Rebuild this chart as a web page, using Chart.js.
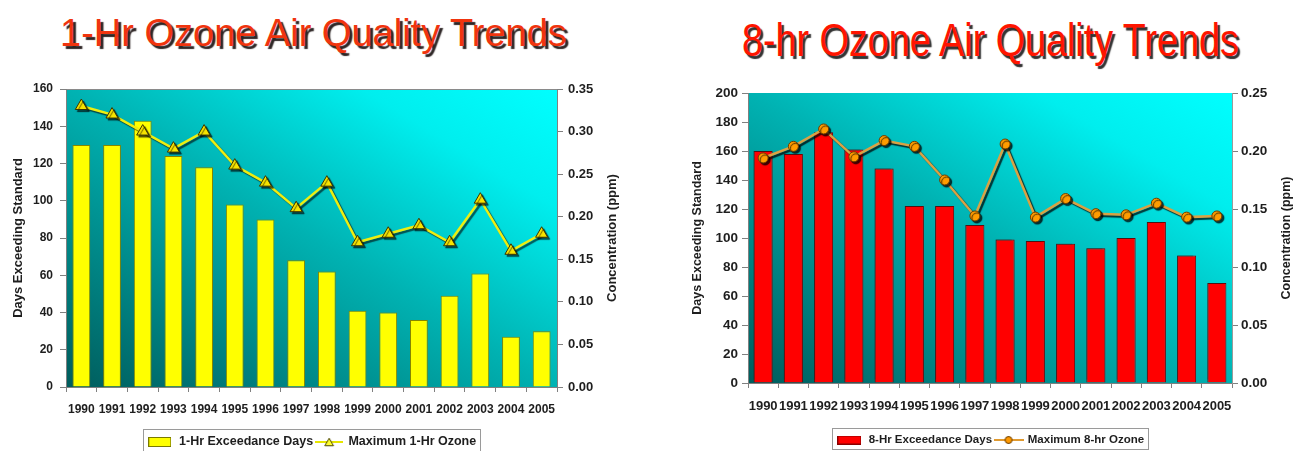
<!DOCTYPE html>
<html>
<head>
<meta charset="utf-8">
<title>Ozone Air Quality Trends</title>
<script src="https://cdn.jsdelivr.net/npm/chart.js@4.4.1/dist/chart.umd.min.js"></script>
<style>
  html, body { margin: 0; padding: 0; background: #ffffff; }
  body { width: 1305px; height: 451px; position: relative; overflow: hidden;
         font-family: "Liberation Sans", Arial, sans-serif; }
  .title { position: absolute; white-space: nowrap; font-family: "Liberation Sans", Arial, sans-serif; }
  #title1 { left: 60px; top: 14px; font-size: 38px; line-height: 38px; color: #f0340e;
            text-shadow: 3px 3px 1px #2e2626; }
  #title2 { left: 742px; top: 17px; font-size: 46px; line-height: 46px; color: #ff1500;
            text-shadow: 3px 3px 1px #333333; transform: scaleX(0.82); transform-origin: 0 0; }
  .panel { position: absolute; top: 0; height: 451px; }
  #panel1 { left: 0; width: 650px; }
  #panel2 { left: 650px; width: 655px; }
</style>
</head>
<body>
<div class="title" id="title1">1-Hr Ozone Air Quality Trends</div>
<div class="title" id="title2">8-hr Ozone Air Quality Trends</div>
<div class="panel" id="panel1"><canvas id="chart1"></canvas></div>
<div class="panel" id="panel2"><canvas id="chart2"></canvas></div>

<script>
// ---- data ----
const years = ['1990', '1991', '1992', '1993', '1994', '1995', '1996', '1997',
               '1998', '1999', '2000', '2001', '2002', '2003', '2004', '2005'];

const oneHrDays = [130, 130, 143, 124, 118, 98, 90, 68, 62, 41, 40, 36, 49, 61, 27, 30];
const oneHrMaxPpm = [0.33, 0.32, 0.30, 0.28, 0.30, 0.26, 0.24, 0.21, 0.24, 0.17, 0.18, 0.19, 0.17, 0.22, 0.16, 0.18];

const eightHrDays = [160, 158, 173, 161, 148, 122, 122, 109, 99, 98, 96, 93, 100, 111, 88, 69];
const eightHrMaxPpm = [0.194, 0.204, 0.219, 0.195, 0.209, 0.204, 0.175, 0.144, 0.206, 0.143, 0.159, 0.146, 0.145, 0.155, 0.143, 0.144];

const oneHrDayTicks = [0, 20, 40, 60, 80, 100, 120, 140, 160];
const oneHrPpmTicks = [0, 0.05, 0.10, 0.15, 0.20, 0.25, 0.30, 0.35];
const eightHrDayTicks = [0, 20, 40, 60, 80, 100, 120, 140, 160, 180, 200];
const eightHrPpmTicks = [0, 0.05, 0.10, 0.15, 0.20, 0.25];

const oneHrLabels = ['1-Hr Exceedance Days', 'Maximum 1-Hr Ozone'];
const eightHrLabels = ['8-Hr Exceedance Days', 'Maximum 8-hr Ozone'];
const daysTitle = 'Days Exceeding Standard';
const ppmTitle = 'Concentration (ppm)';

// ---- shared look ----
const FONT = '"Liberation Sans", Arial, sans-serif';
Chart.defaults.font.family = FONT;
Chart.defaults.color = '#1e1e1e';
const AXIS_GREY = '#808080';

// diagonal teal-to-cyan fill behind the plot
function plotBackground(stops, topLine) {
  return {
    id: 'plotBackground',
    beforeDraw(chart) {
      const { ctx, chartArea: a } = chart;
      const W = a.right - a.left, H = a.bottom - a.top;
      const cx = (a.left + a.right) / 2, cy = (a.top + a.bottom) / 2;
      const k = W * H / (W * W + H * H);
      const g = ctx.createLinearGradient(cx - k * H, cy + k * W, cx + k * H, cy - k * W);
      stops.forEach(([p, c]) => g.addColorStop(p, c));
      ctx.save();
      ctx.fillStyle = g;
      ctx.fillRect(a.left, a.top, W, H);
      if (topLine) {
        ctx.strokeStyle = topLine;
        ctx.lineWidth = 1;
        ctx.beginPath();
        ctx.moveTo(a.left, a.top + 0.5);
        ctx.lineTo(a.right, a.top + 0.5);
        ctx.stroke();
      }
      ctx.restore();
    }
  };
}

// drop shadows under chosen datasets
function markShadow(specs) {
  return {
    id: 'markShadow',
    beforeDatasetDraw(chart, args) {
      const s = specs[args.index];
      if (!s) return;
      const ctx = chart.ctx;
      ctx.save();
      ctx.shadowColor = s.color;
      ctx.shadowBlur = s.blur;
      ctx.shadowOffsetX = s.x;
      ctx.shadowOffsetY = s.y;
    },
    afterDatasetDraw(chart, args) {
      if (specs[args.index]) chart.ctx.restore();
    }
  };
}

// rotated axis titles, both reading bottom-to-top
function sideTitles(items) {
  return {
    id: 'sideTitles',
    afterDraw(chart) {
      const { ctx, chartArea: a } = chart;
      items.forEach(it => {
        const s = chart.scales[it.scale];
        const x = it.fromLeft ? s.left + it.inset : s.right - it.inset;
        ctx.save();
        ctx.translate(x, (a.top + a.bottom) / 2);
        ctx.rotate(-Math.PI / 2);
        ctx.font = it.font;
        ctx.fillStyle = it.color;
        ctx.textAlign = 'center';
        ctx.textBaseline = 'middle';
        ctx.fillText(it.text, 0, 0);
        ctx.restore();
      });
    }
  };
}

// thin frame around the legend entries
function legendFrame(pad, color) {
  return {
    id: 'legendFrame',
    afterDraw(chart) {
      const hb = chart.legend && chart.legend.legendHitBoxes;
      if (!hb || !hb.length) return;
      let l = Infinity, r = -Infinity, t = Infinity, b = -Infinity;
      hb.forEach(h => {
        l = Math.min(l, h.left); r = Math.max(r, h.left + h.width);
        t = Math.min(t, h.top); b = Math.max(b, h.top + h.height);
      });
      const ctx = chart.ctx;
      ctx.save();
      ctx.strokeStyle = color;
      ctx.lineWidth = 1;
      ctx.strokeRect(Math.round(l - pad.l) + 0.5, Math.round(t - pad.t) + 0.5,
                     Math.round(r - l + pad.l + pad.r), Math.round(b - t + pad.t + pad.b));
      ctx.restore();
    }
  };
}

// legend glyphs
function swatchIcon(w, h, fill, stroke) {
  const c = document.createElement('canvas');
  c.width = w; c.height = h;
  const g = c.getContext('2d');
  g.fillStyle = fill; g.fillRect(0, 0, w, h);
  g.strokeStyle = stroke; g.lineWidth = 1; g.strokeRect(0.5, 0.5, w - 1, h - 1);
  return c;
}
function lineIcon(w, h, lineColor, marker) {
  const c = document.createElement('canvas');
  c.width = w; c.height = h;
  const g = c.getContext('2d');
  g.strokeStyle = lineColor; g.lineWidth = 2;
  g.beginPath(); g.moveTo(0, h / 2); g.lineTo(w, h / 2); g.stroke();
  g.fillStyle = marker.fill; g.strokeStyle = marker.stroke; g.lineWidth = 1;
  g.beginPath();
  if (marker.shape === 'triangle') {
    const r = marker.r, cx = w / 2, cy = h / 2 + r / 4;
    for (let i = 0; i < 3; i++) {
      const ang = i * 2 * Math.PI / 3;
      const px = cx + Math.sin(ang) * r, py = cy - Math.cos(ang) * r;
      i ? g.lineTo(px, py) : g.moveTo(px, py);
    }
    g.closePath();
  } else {
    g.arc(w / 2, h / 2, marker.r, 0, Math.PI * 2);
  }
  g.fill(); g.stroke();
  return c;
}

function legendWithIcons(icons) {
  return function (chart) {
    const items = Chart.defaults.plugins.legend.labels.generateLabels(chart);
    items.sort((a, b) => a.datasetIndex - b.datasetIndex);
    items.forEach(it => { it.pointStyle = icons[it.datasetIndex]; });
    return items;
  };
}

function tickSetter(values) {
  return axis => { axis.ticks = values.map(v => ({ value: v })); };
}

const bgStops = [[0, '#005c5c'], [0.5, '#00b2b2'], [0.8, '#00eeee'], [1, '#00ffff']];

// ---- 1-hour chart ----
new Chart(document.getElementById('chart1'), {
  data: {
    labels: years,
    datasets: [
      {
        type: 'bar', label: oneHrLabels[0], data: oneHrDays, yAxisID: 'y', order: 1,
        backgroundColor: '#ffff00', borderColor: '#858500', borderWidth: 1,
        categoryPercentage: 1, barPercentage: 0.58
      },
      {
        type: 'line', label: oneHrLabels[1], data: oneHrMaxPpm, yAxisID: 'y1', order: 0,
        borderColor: '#eeee10', borderWidth: 2.5, tension: 0,
        pointStyle: 'triangle', pointRadius: 7, pointHoverRadius: 7,
        pointBackgroundColor: '#f7e400', pointBorderColor: '#3a3300', pointBorderWidth: 1
      }
    ]
  },
  options: {
    responsive: true, maintainAspectRatio: false, animation: false,
    layout: { padding: { top: 89, left: 0, right: 0, bottom: -7.25 } },
    scales: {
      x: {
        afterFit: s => { s.height = 45.75; },
        grid: { display: true, drawOnChartArea: false, drawTicks: true, tickLength: 5, color: AXIS_GREY, offset: true },
        border: { display: true, color: AXIS_GREY },
        ticks: { autoSkip: false, maxRotation: 0, minRotation: 0, padding: 10.8,
                 font: { size: 12, weight: 'bold' }, color: '#1e1e1e' }
      },
      y: {
        position: 'left', min: 0, max: 160,
        afterFit: s => { s.width = 66; },
        afterBuildTicks: tickSetter(oneHrDayTicks),
        grid: { drawOnChartArea: false, tickLength: 6, color: AXIS_GREY },
        border: { display: true, color: AXIS_GREY },
        ticks: { padding: 7, font: { size: 12, weight: 'bold' }, color: '#1e1e1e',
                 callback: v => String(v) }
      },
      y1: {
        position: 'right', min: 0, max: 0.35,
        afterFit: s => { s.width = 93; },
        afterBuildTicks: tickSetter(oneHrPpmTicks),
        grid: { drawOnChartArea: false, tickLength: 6, color: AXIS_GREY },
        border: { display: true, color: AXIS_GREY },
        ticks: { padding: 5, font: { size: 13, weight: 'bold' }, color: '#1e1e1e',
                 callback: v => Number(v).toFixed(2) }
      }
    },
    plugins: {
      tooltip: { enabled: false },
      legend: {
        position: 'bottom', fullSize: false,
        labels: {
          usePointStyle: true, pointStyleWidth: 26, padding: 3,
          font: { size: 12.5, weight: 'bold' }, color: '#1e1e1e',
          generateLabels: legendWithIcons([
            swatchIcon(23, 10, '#ffff00', '#7a7a00'),
            lineIcon(28, 12, '#e6e600', { shape: 'triangle', r: 5, fill: '#ffff30', stroke: '#4a4500' })
          ])
        }
      }
    }
  },
  plugins: [
    plotBackground(bgStops, '#8a8a8a'),
    markShadow({ 1: { x: 2, y: 2, blur: 1, color: 'rgba(0,0,0,0.6)' } }),
    sideTitles([
      { scale: 'y', fromLeft: true, inset: 18, text: daysTitle, font: 'bold 13px ' + FONT, color: '#1e1e1e' },
      { scale: 'y1', fromLeft: false, inset: 38, text: ppmTitle, font: 'bold 13px ' + FONT, color: '#1e1e1e' }
    ]),
    legendFrame({ l: 4, r: 4, t: 7, b: 7 }, '#9a9a9a')
  ]
});

// ---- 8-hour chart ----
new Chart(document.getElementById('chart2'), {
  data: {
    labels: years,
    datasets: [
      {
        type: 'bar', label: eightHrLabels[0], data: eightHrDays, yAxisID: 'y', order: 1,
        backgroundColor: '#ff0000', borderColor: '#7a0000', borderWidth: 1,
        categoryPercentage: 1, barPercentage: 0.63
      },
      {
        type: 'line', label: eightHrLabels[1], data: eightHrMaxPpm, yAxisID: 'y1', order: 0,
        borderColor: '#d8a244', borderWidth: 2.5, tension: 0,
        pointStyle: 'circle', pointRadius: 5, pointHoverRadius: 5,
        pointBackgroundColor: '#ff9c00', pointBorderColor: '#6b3d00', pointBorderWidth: 1
      }
    ]
  },
  options: {
    responsive: true, maintainAspectRatio: false, animation: false,
    layout: { padding: { top: 93, left: 0, right: 0, bottom: -4.75 } },
    scales: {
      x: {
        afterFit: s => { s.height = 48.25; },
        grid: { display: true, drawOnChartArea: false, drawTicks: true, tickLength: 5, color: AXIS_GREY, offset: true },
        border: { display: true, color: AXIS_GREY },
        ticks: { autoSkip: false, maxRotation: 0, minRotation: 0, padding: 11,
                 font: { size: 13, weight: 'bold' }, color: '#1e1e1e' }
      },
      y: {
        position: 'left', min: 0, max: 200,
        afterFit: s => { s.width = 98; },
        afterBuildTicks: tickSetter(eightHrDayTicks),
        grid: { drawOnChartArea: false, tickLength: 6, color: AXIS_GREY },
        border: { display: true, color: AXIS_GREY },
        ticks: { padding: 4, font: { size: 13.5, weight: 'bold' }, color: '#1e1e1e',
                 callback: v => String(v) }
      },
      y1: {
        position: 'right', min: 0, max: 0.25,
        afterFit: s => { s.width = 73; },
        afterBuildTicks: tickSetter(eightHrPpmTicks),
        grid: { drawOnChartArea: false, tickLength: 6, color: AXIS_GREY },
        border: { display: true, color: '#9a9a9a' },
        ticks: { padding: 3, font: { size: 13.5, weight: 'bold' }, color: '#1e1e1e',
                 callback: v => Number(v).toFixed(2) }
      }
    },
    plugins: {
      tooltip: { enabled: false },
      legend: {
        position: 'bottom', fullSize: false,
        labels: {
          usePointStyle: true, pointStyleWidth: 27, padding: 3,
          font: { size: 11.5, weight: 'bold' }, color: '#1e1e1e',
          generateLabels: legendWithIcons([
            swatchIcon(24, 9, '#ff0000', '#8a0000'),
            lineIcon(30, 12, '#e09a30', { shape: 'circle', r: 3.5, fill: '#ff9900', stroke: '#6b3d00' })
          ])
        }
      }
    }
  },
  plugins: [
    plotBackground(bgStops, null),
    markShadow({
      0: { x: -3, y: -3, blur: 0, color: 'rgba(0,50,50,0.35)' },
      1: { x: 2, y: 2, blur: 1, color: 'rgba(0,0,0,0.75)' }
    }),
    sideTitles([
      { scale: 'y', fromLeft: true, inset: 48, text: daysTitle, font: 'bold 12.5px ' + FONT, color: '#1e1e1e' },
      { scale: 'y1', fromLeft: false, inset: 18, text: ppmTitle, font: 'bold 12.5px ' + FONT, color: '#1e1e1e' }
    ]),
    legendFrame({ l: 4, r: 4, t: 6, b: 3 }, '#9a9a9a')
  ]
});
</script>
</body>
</html>
